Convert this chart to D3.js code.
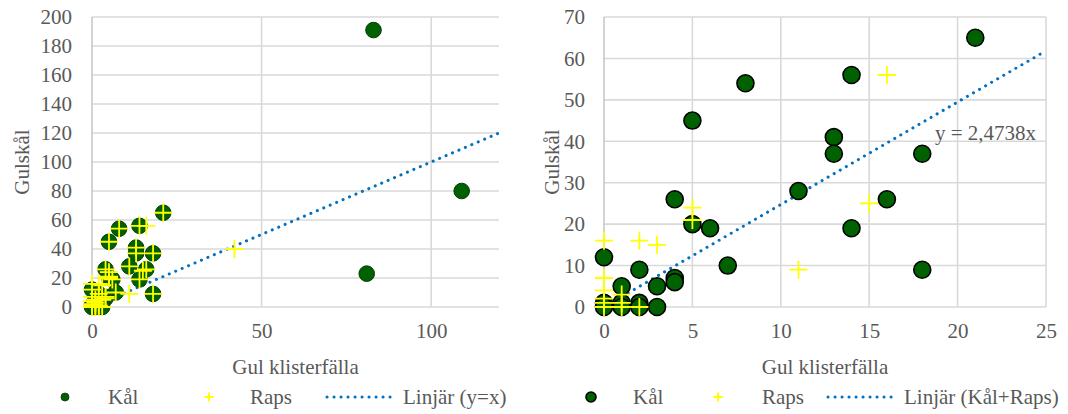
<!DOCTYPE html>
<html>
<head>
<meta charset="utf-8">
<script src="https://cdn.jsdelivr.net/npm/d3@7"></script>
<style>
  html, body { margin: 0; padding: 0; background: #fff; }
  svg { display: block; }
  svg text, .tick text { font-family: "Liberation Serif", "Times New Roman", serif !important; fill: #595959; }
</style>
</head>
<body>
<svg id="chart" width="1068" height="414"></svg>
<script>
// ---------- data ----------
// Left chart (all data, line y = x)
const leftKal = [[21,65],[14,56],[8,54],[5,45],[13,41],[13,37],[18,37],[11,28],[16,26],[4,26],[5,20],[6,19],[14,19],[0,12],[2,9],[7,10],[18,9],[4,7],[4,6],[1,5],[3,5],[0,1],[0,0],[1,1],[1,0],[2,1],[2,0],[3,0],[83,191],[109,80],[81,23]];
const leftRaps = [[21,65],[14,56],[8,54],[5,45],[13,41],[13,37],[18,37],[11,28],[16,26],[4,26],[5,20],[6,19],[14,19],[0,12],[2,9],[7,10],[18,9],[4,7],[4,6],[1,5],[3,5],[0,1],[0,0],[1,1],[1,0],[2,1],[2,0],[3,0],[16,56],[15,25],[5,24],[5,21],[11,9],[0,16],[2,16],[3,15],[0,7],[0,4],[0,2],[1,3],[42,40]];
const leftXTicks = [0, 50, 100];
const leftYTicks = [0, 20, 40, 60, 80, 100, 120, 140, 160, 180, 200];
const leftLineSlope = 1;

// Right chart (zoomed, line through origin)
const rightKal = [[21,65],[14,56],[8,54],[5,45],[13,41],[13,37],[18,37],[11,28],[16,26],[4,26],[5,20],[6,19],[14,19],[0,12],[2,9],[7,10],[18,9],[4,7],[4,6],[1,5],[3,5],[0,1],[0,0],[1,1],[1,0],[2,1],[2,0],[3,0]];
const rightRaps = [[16,56],[15,25],[5,24],[5,21],[11,9],[0,16],[2,16],[3,15],[0,7],[0,4],[0,2],[0,1],[0,0],[1,3],[1,1],[1,0],[2,0]];
const rightXTicks = [0, 5, 10, 15, 20, 25];
const rightYTicks = [0, 10, 20, 30, 40, 50, 60, 70];
const rightLineSlope = 2.4738;
const rightEquation = "y = 2,4738x";

const xTitle = "Gul klisterfälla";
const yTitle = "Gulskål";
const legendLeft = ["Kål", "Raps", "Linjär (y=x)"];
const legendRight = ["Kål", "Raps", "Linjär (Kål+Raps)"];

// ---------- drawing ----------
const svg = d3.select("#chart");
const GREEN = "#006100";
const YELLOW = "#FFFF00";
const BLUE = "#0070C0";
const GRID = "#d9d9d9";
const FS = 21;
const FONT = '"Liberation Serif", "Times New Roman", serif';

function drawPanel(opt) {
  const g = svg.append("g");
  const x = d3.scaleLinear().domain(opt.xDomain).range(opt.xRange);
  const y = d3.scaleLinear().domain(opt.yDomain).range([307, 17]);

  // grid
  g.append("g").selectAll("line.h").data(opt.yTicks).join("line")
    .attr("x1", x(opt.xDomain[0])).attr("x2", x(opt.xDomain[1]))
    .attr("y1", d => y(d)).attr("y2", d => y(d))
    .attr("stroke", GRID).attr("stroke-width", 1.6);
  g.append("g").selectAll("line.v").data(opt.vGrid).join("line")
    .attr("x1", d => x(d)).attr("x2", d => x(d))
    .attr("y1", y(opt.yDomain[0])).attr("y2", y(opt.yDomain[1]))
    .attr("stroke", d => d === 0 ? "#c8c8c8" : GRID).attr("stroke-width", 1.6);

  // axes (labels only)
  const ax = g.append("g").attr("transform", `translate(${x(0)},0)`)
    .call(d3.axisLeft(y).tickValues(opt.yTicks).tickSize(0).tickPadding(opt.yPad).tickFormat(d3.format("d")));
  const bx = g.append("g").attr("transform", `translate(0,${y(0)})`)
    .call(d3.axisBottom(x).tickValues(opt.xTicks).tickSize(0).tickPadding(16).tickFormat(d3.format("d")));
  [ax, bx].forEach(a => {
    a.attr("font-family", FONT).attr("font-size", FS);
    a.select(".domain").remove();
    a.selectAll("text").attr("font-size", FS).attr("fill", "#595959")
      .attr("font-family", FONT);
  });

  // trend line
  const lx = opt.xDomain[1];
  g.append("line")
    .attr("x1", x(0)).attr("y1", y(0))
    .attr("x2", x(lx)).attr("y2", y(opt.slope * lx))
    .attr("stroke", BLUE).attr("stroke-width", 3)
    .attr("stroke-linecap", "round").attr("stroke-dasharray", "0.1,6.9");

  // Kål circles
  g.append("g").selectAll("circle").data(opt.kal).join("circle")
    .attr("cx", d => x(d[0])).attr("cy", d => y(d[1]))
    .attr("r", opt.r)
    .attr("fill", GREEN).attr("stroke", opt.kalStroke).attr("stroke-width", opt.kalStrokeW);

  // Raps pluses
  const s = 9;
  g.append("g").selectAll("path").data(opt.raps).join("path")
    .attr("d", d => `M${x(d[0]) - s},${y(d[1])}H${x(d[0]) + s}M${x(d[0])},${y(d[1]) - s}V${y(d[1]) + s}`)
    .attr("stroke", YELLOW).attr("stroke-width", 1.8).attr("fill", "none");

  // titles
  g.append("text").attr("x", (opt.xRange[0] + opt.xRange[1]) / 2).attr("y", 374)
    .attr("text-anchor", "middle").attr("font-size", FS).text(xTitle);
  g.append("text").attr("transform", `translate(${opt.yTitleX},162) rotate(-90)`)
    .attr("text-anchor", "middle").attr("dy", "0.35em").attr("font-size", FS).text(yTitle);

  if (opt.equation) {
    g.append("text").attr("x", opt.eqX).attr("y", 140).attr("font-size", FS).text(opt.equation);
  }

  // legend
  const L = opt.legend;
  const ly = 397;
  const lg = g.append("g");
  lg.append("circle").attr("cx", L.dotX).attr("cy", ly).attr("r", L.dotR)
    .attr("fill", GREEN).attr("stroke", L.dotStroke).attr("stroke-width", L.dotStrokeW);
  lg.append("text").attr("x", L.t1).attr("y", ly).attr("dy", "0.33em").attr("font-size", FS).text(L.labels[0]);
  lg.append("path").attr("d", `M${L.plusX - 4.5},${ly}H${L.plusX + 4.5}M${L.plusX},${ly - 4.5}V${ly + 4.5}`)
    .attr("stroke", YELLOW).attr("stroke-width", 2);
  lg.append("text").attr("x", L.t2).attr("y", ly).attr("dy", "0.33em").attr("font-size", FS).text(L.labels[1]);
  lg.append("line").attr("x1", L.lineX0).attr("x2", L.lineX1).attr("y1", ly).attr("y2", ly)
    .attr("stroke", BLUE).attr("stroke-width", 3).attr("stroke-linecap", "round").attr("stroke-dasharray", "0.1,6.9");
  lg.append("text").attr("x", L.t3).attr("y", ly).attr("dy", "0.33em").attr("font-size", FS).text(L.labels[2]);
}

drawPanel({
  xDomain: [0, 120], xRange: [92, 499], yDomain: [0, 200],
  xTicks: leftXTicks, yTicks: leftYTicks, vGrid: leftXTicks,
  yPad: 20, slope: leftLineSlope,
  kal: leftKal, raps: leftRaps, r: 7.8, kalStroke: "#0b3a0b", kalStrokeW: 1,
  yTitleX: 22,
  legend: { labels: legendLeft, dotX: 65, dotR: 4, dotStroke: "#0b3a0b", dotStrokeW: 0.8,
            t1: 108, plusX: 209, t2: 250, lineX0: 327, lineX1: 396, t3: 403 }
});

drawPanel({
  xDomain: [0, 25], xRange: [604, 1046], yDomain: [0, 70],
  xTicks: rightXTicks, yTicks: rightYTicks, vGrid: rightXTicks,
  yPad: 19, slope: rightLineSlope,
  kal: rightKal, raps: rightRaps, r: 8.5, kalStroke: "#000", kalStrokeW: 1.6,
  yTitleX: 552, equation: rightEquation, eqX: 935,
  legend: { labels: legendRight, dotX: 591, dotR: 5, dotStroke: "#000", dotStrokeW: 1.6,
            t1: 633, plusX: 718, t2: 762, lineX0: 828, lineX1: 897, t3: 904 }
});
</script>
</body>
</html>
